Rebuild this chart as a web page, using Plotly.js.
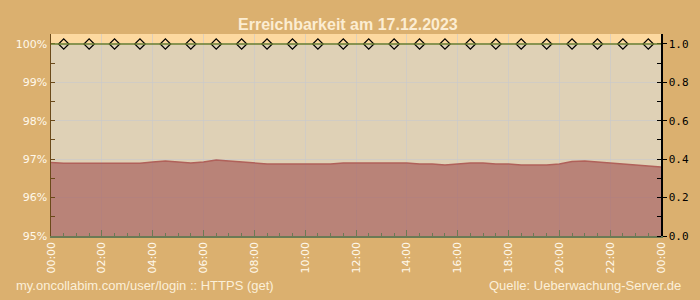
<!DOCTYPE html>
<html>
<head>
<meta charset="utf-8">
<script src="https://cdn.plot.ly/plotly-3.0.1.min.js"></script>
<style>html,body{margin:0;padding:0;background:#dbb06f;}#chart{width:700px;height:300px;}</style>
</head>
<body>
<div id="chart"></div>
<script>
// Response time samples (right axis, seconds), every 30 minutes
const timeLabels = ["00:00","00:30","01:00","01:30","02:00","02:30","03:00","03:30","04:00","04:30","05:00","05:30","06:00","06:30","07:00","07:30","08:00","08:30","09:00","09:30","10:00","10:30","11:00","11:30","12:00","12:30","13:00","13:30","14:00","14:30","15:00","15:30","16:00","16:30","17:00","17:30","18:00","18:30","19:00","19:30","20:00","20:30","21:00","21:30","22:00","22:30","23:00","23:30","24:00"];
const responseTime = [0.383,0.379,0.379,0.379,0.379,0.379,0.379,0.379,0.385,0.391,0.385,0.380,0.385,0.396,0.391,0.385,0.380,0.375,0.375,0.375,0.375,0.375,0.375,0.380,0.380,0.380,0.380,0.380,0.380,0.375,0.375,0.370,0.375,0.380,0.380,0.375,0.375,0.370,0.370,0.370,0.375,0.388,0.391,0.385,0.380,0.375,0.370,0.362,0.359];
// Availability (left axis, %), hourly checks at half past
const availTimes = ["00:30","01:30","02:30","03:30","04:30","05:30","06:30","07:30","08:30","09:30","10:30","11:30","12:30","13:30","14:30","15:30","16:30","17:30","18:30","19:30","20:30","21:30","22:30","23:30"];
const availability = [100,100,100,100,100,100,100,100,100,100,100,100,100,100,100,100,100,100,100,100,100,100,100,100];
const xTickVals = ["00:00","02:00","04:00","06:00","08:00","10:00","12:00","14:00","16:00","18:00","20:00","22:00","24:00"];
const xTickText = ["00:00","02:00","04:00","06:00","08:00","10:00","12:00","14:00","16:00","18:00","20:00","22:00","00:00"];

function toDate(t){
  if(t==="24:00") return "2023-12-18 00:00";
  return "2023-12-17 " + t;
}

const traces = [
  {
    x: timeLabels.map(toDate), y: responseTime, yaxis: 'y2',
    type: 'scatter', mode: 'lines', fill: 'tozeroy',
    fillcolor: 'rgba(160,78,78,0.6)',
    line: {color: '#b0615a', width: 1.5, shape: 'linear'},
    hoverinfo: 'skip', showlegend: false
  },
  {
    x: availTimes.map(toDate), y: availability, yaxis: 'y',
    type: 'scatter', mode: 'markers',
    marker: {symbol: 'diamond-open', size: 8, color: '#000', line: {color: '#000', width: 1.2}},
    showlegend: false
  }
];

const layout = {
  width: 700, height: 300,
  margin: {l: 51, r: 39, t: 34, b: 64},
  paper_bgcolor: '#dbb06f',
  plot_bgcolor: '#dfd1b6',
  title: {text: '<b>Erreichbarkeit am 17.12.2023</b>', x: 0.497, xanchor: 'center', y: 0.92, yanchor: 'middle',
          font: {family: 'Liberation Sans, Arial, sans-serif', size: 16, color: '#fcedd2'}},
  xaxis: {
    type: 'date', range: [toDate('00:00'), toDate('24:00')],
    tickvals: xTickVals.map(toDate), ticktext: xTickText, tickangle: -90,
    tickfont: {family: 'DejaVu Sans, sans-serif', size: 11, color: '#fff8ea'},
    ticks: 'inside', ticklen: 6, tickcolor: '#6b7a55', tickwidth: 1,
    minor: {dtick: 1800000, ticks: 'inside', ticklen: 3, tickcolor: '#6b7a55', showgrid: false},
    showline: true, linecolor: '#6b7a55', linewidth: 1.5,
    showgrid: true, gridcolor: 'rgba(200,200,205,0.6)', gridwidth: 1,
    zeroline: false, fixedrange: true
  },
  yaxis: {
    range: [95, 100.26], dtick: 1, tick0: 95, ticksuffix: '%',
    tickfont: {family: 'DejaVu Sans, sans-serif', size: 11, color: '#fff8ea'},
    ticks: 'inside', ticklen: 4, tickcolor: '#6b4a1a',
    minor: {dtick: 0.5, ticks: 'inside', ticklen: 4, tickcolor: '#6b4a1a', showgrid: false},
    showline: true, linecolor: '#6b4a1a', linewidth: 1.5,
    showgrid: true, gridcolor: 'rgba(200,200,205,0.6)', gridwidth: 1,
    zeroline: false, fixedrange: true
  },
  yaxis2: {
    range: [0, 1.052], dtick: 0.2, tick0: 0, tickformat: '.1f',
    overlaying: 'y', side: 'right',
    tickfont: {family: 'DejaVu Sans Mono, monospace', size: 11, color: '#000'},
    ticks: 'outside', ticklen: 4, tickcolor: '#000',
    minor: {dtick: 0.1, ticks: 'inside', ticklen: 4, tickcolor: '#000'},
    showline: true, linecolor: '#000', linewidth: 1.5,
    showgrid: false, zeroline: false, fixedrange: true
  },
  shapes: [
    {type: 'rect', xref: 'paper', yref: 'y', x0: 0, x1: 1, y0: 100, y1: 100.26,
     fillcolor: '#fdd9a0', line: {width: 0}, layer: 'below'},
    {type: 'line', xref: 'paper', yref: 'y', x0: 0, x1: 1, y0: 100, y1: 100,
     line: {color: '#6b7f2e', width: 1.5}, layer: 'above'}
  ],
  annotations: [
    {text: 'my.oncollabim.com/user/login :: HTTPS (get)', xref: 'paper', yref: 'paper',
     x: -0.061, y: -0.245, xanchor: 'left', yanchor: 'middle', showarrow: false,
     font: {family: 'Liberation Sans, Arial, sans-serif', size: 13, color: '#fbefd8'}},
    {text: 'Quelle: Ueberwachung-Server.de', xref: 'paper', yref: 'paper',
     x: 1.036, y: -0.245, xanchor: 'right', yanchor: 'middle', showarrow: false,
     font: {family: 'Liberation Sans, Arial, sans-serif', size: 13, color: '#fbefd8'}}
  ]
};

Plotly.newPlot('chart', traces, layout, {displayModeBar: false, staticPlot: true});
</script>
</body>
</html>
